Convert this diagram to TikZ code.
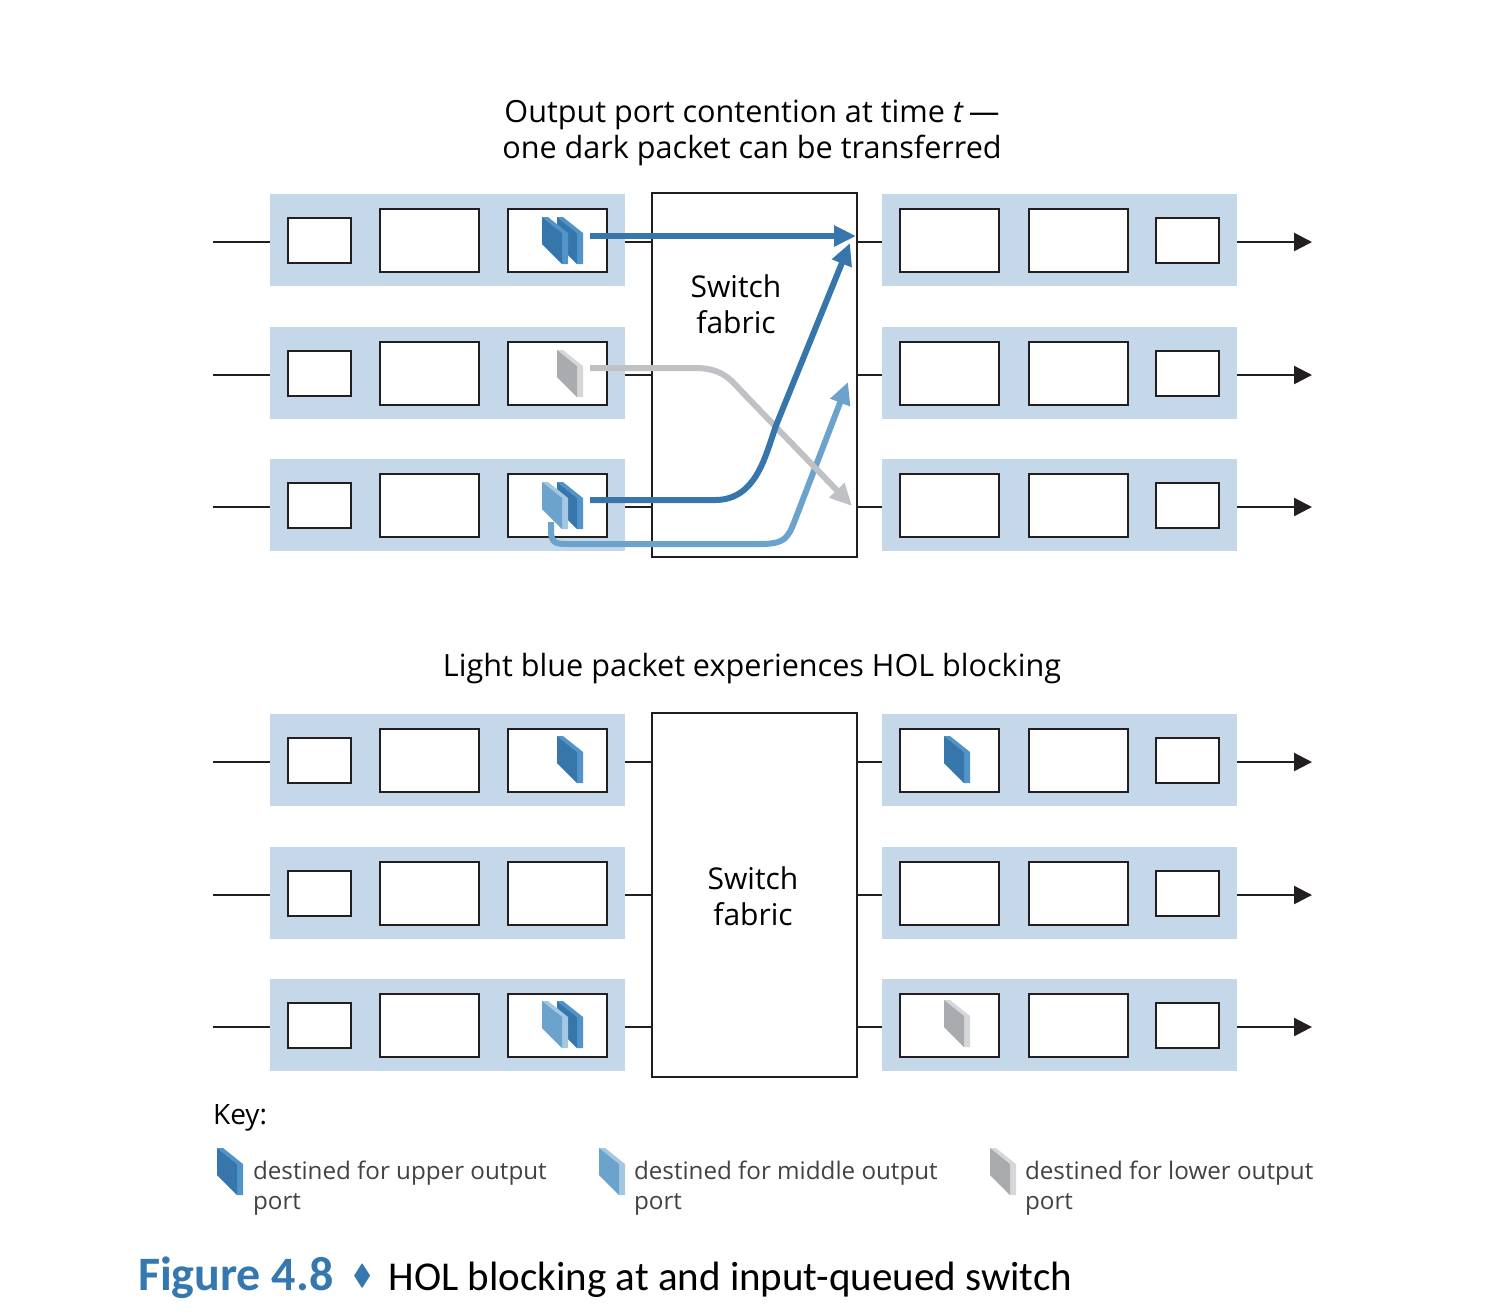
\documentclass[tikz,border=0pt]{standalone}
\usepackage{fontspec}
\usepackage{amssymb}
\setmainfont{Open Sans}
\newfontfamily\capfont{Carlito}
\usetikzlibrary{arrows.meta, positioning}

\definecolor{rowblue}{RGB}{197,216,233}
\definecolor{boxline}{RGB}{35,31,32}
\definecolor{darkpkt}{RGB}{54,118,170}
\definecolor{darkside}{RGB}{80,148,202}
\definecolor{lightpkt}{RGB}{107,163,204}
\definecolor{lightside}{RGB}{165,200,226}
\definecolor{graypkt}{RGB}{170,171,175}
\definecolor{grayside}{RGB}{214,215,217}
\definecolor{flowgray}{RGB}{192,193,196}
\definecolor{figblue}{RGB}{53,120,176}

% one packet, top left corner at (#1,#2)
\newcommand{\pkt}[4]{%
  \begin{scope}[shift={(#1,#2)}]
    \fill[#4] (0,0) -- (6,0) -- (26,16) -- (26,47) -- (20,47) -- (20,16) -- cycle;
    \fill[#3] (0,0) -- (20,16) -- (20,47) -- (0,27) -- cycle;
  \end{scope}}

\begin{document}
\begin{tikzpicture}[
    x=0.5pt, y=-0.5pt,
    portrow/.style={fill=rowblue, minimum width=177.5pt, minimum height=46pt, inner sep=0pt},
    slot/.style={draw=boxline, line width=1pt, fill=white, minimum width=49.5pt, minimum height=31.5pt, inner sep=0pt},
    smallslot/.style={slot, minimum width=31.5pt, minimum height=22.5pt},
    fabric/.style={draw=boxline, line width=0.8pt, fill=white, minimum width=102.5pt, minimum height=182pt, inner sep=0pt},
    wire/.style={draw=boxline, line width=1.2pt},
    outwire/.style={wire, -{Triangle[length=9pt, width=9pt]}},
    flow/.style={line width=3pt, -{Triangle[length=11pt, width=10pt]}},
    heading/.style={align=center, font=\fontsize{15.3}{18}\selectfont},
    keytext/.style={anchor=north west, align=left, font=\fontsize{12.1}{15}\selectfont, text=boxline!85}
]
\useasboundingbox (0,0) rectangle (1502,1314);

\foreach \h/\off in {T/0, B/520} {
  \begin{scope}[shift={(0,\off)}]
    \node[fabric] (sw\h) at (754.5,375) {};
    \foreach \r/\yy in {1/240, 2/373, 3/505} {
      \node[portrow] (in\h\r) at (447.5,\yy) {};
      \node[smallslot, right=8.5pt of in\h\r.west] (inA\h\r) {};
      \node[slot, right=13.5pt of inA\h\r] (inB\h\r) {};
      \node[slot, right=13.5pt of inB\h\r] (inC\h\r) {};
      \node[portrow] (out\h\r) at (1059.5,\yy) {};
      \node[slot, right=8.5pt of out\h\r.west] (outA\h\r) {};
      \node[slot, right=14pt of outA\h\r] (outB\h\r) {};
      \node[smallslot, right=13pt of outB\h\r] (outC\h\r) {};
      \coordinate (src\h\r) at (213,\yy+2);
      \coordinate (dst\h\r) at (1312,\yy+2);
      \draw[wire] (src\h\r) -- (src\h\r -| in\h\r.west);
      \draw[wire] (src\h\r -| in\h\r.east) -- (src\h\r -| sw\h.west);
      \draw[wire] (src\h\r -| sw\h.east) -- (src\h\r -| out\h\r.west);
      \draw[outwire] (src\h\r -| out\h\r.east) -- (dst\h\r);
    }
  \end{scope}
}

\node[heading] (titleT) at (752,133) {Output port contention at time \textit{t}\,---\\one dark packet can be transferred};
\node[heading] (titleB) at (752,669) {Light blue packet experiences HOL blocking};
\node[heading, font=\fontsize{15}{18}\selectfont] (labelT) at (736,304) {Switch\\fabric};
\node[heading, font=\fontsize{15}{18}\selectfont] (labelB) at (753,896) {Switch\\fabric};

% transfers at time t
\coordinate (goU) at (590,236);
\coordinate (goD) at (590,500);
\coordinate (goG) at (590,368);
\coordinate (goL) at (551,522);
\coordinate (tipU) at (856,236);
\coordinate (tipD) at (850,243);
\coordinate (tipG) at (852,506);
\coordinate (tipL) at (848,382);
\draw[flow, lightpkt] (goL) -- (551,530) .. controls (551,544) and (556,544) .. (570,544)
  -- (760,544) .. controls (785,544) and (788,538) .. (795,520) -- (tipL);
\draw[flow, flowgray] (goG) -- (695,368) .. controls (725,368) and (732,382) .. (747,397) -- (tipG);
\draw[flow, darkpkt] (goD) -- (715,500) .. controls (758,500) and (766,452) .. (777,423) -- (tipD);
\draw[flow, darkpkt] (goU) -- (tipU);

% packets
\pkt{557}{217}{darkpkt}{darkside}
\pkt{542}{217}{darkpkt}{darkside}
\pkt{557}{350}{graypkt}{grayside}
\pkt{557}{482}{darkpkt}{darkside}
\pkt{542}{482}{lightpkt}{lightside}
\pkt{557}{736}{darkpkt}{darkside}
\pkt{944}{736}{darkpkt}{darkside}
\pkt{557}{1001}{darkpkt}{darkside}
\pkt{542}{1001}{lightpkt}{lightside}
\pkt{944}{1000}{graypkt}{grayside}

% key
\node[anchor=west, font=\fontsize{14}{17}\selectfont] (keyhead) at (206,1118) {Key:};
\pkt{217}{1148}{darkpkt}{darkside}
\pkt{599}{1148}{lightpkt}{lightside}
\pkt{990}{1148}{graypkt}{grayside}
\node[keytext] (keyU) at (246,1154) {destined for upper output\\port};
\node[keytext] (keyM) at (627,1154) {destined for middle output\\port};
\node[keytext] (keyL) at (1018,1154) {destined for lower output\\port};

\node[anchor=base west, font=\capfont\fontsize{24}{28}\selectfont] (caption) at (131,1290)
  {{\bfseries\color{figblue}Figure 4.8}\hspace{0.4em}{\color{figblue}\raisebox{0.12em}{\scalebox{0.6}{$\blacklozenge$}}}\hspace{0.35em}{\fontsize{20.5}{24}\selectfont HOL blocking at and input-queued switch}};
\end{tikzpicture}
\end{document}
